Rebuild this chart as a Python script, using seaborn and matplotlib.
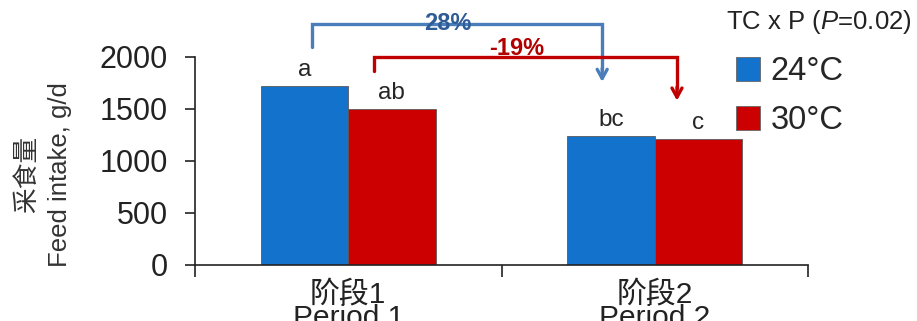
import matplotlib
matplotlib.use("Agg")
import matplotlib.pyplot as plt
from matplotlib.patches import Rectangle
import seaborn as sns
import pandas as pd

# ---- data ----
periods = ["阶段1\nPeriod 1", "阶段2\nPeriod 2"]
temps = ["24°C", "30°C"]
intake_24 = [1720, 1240]
intake_30 = [1500, 1210]
letters_24 = ["a", "bc"]
letters_30 = ["ab", "c"]
change_24 = "28%"
change_30 = "-19%"
interaction_label = "TC x P ($\\mathit{P}$=0.02)"
yticks = [0, 500, 1000, 1500, 2000]

colors = {"24°C": "#1272CC", "30°C": "#CC0000"}

df = pd.DataFrame({
    "period": periods * 2,
    "temp": [temps[0]] * 2 + [temps[1]] * 2,
    "intake": intake_24 + intake_30,
})

sns.set_theme(style="white")
plt.rcParams["font.family"] = ["Liberation Sans", "Noto Sans CJK SC", "DejaVu Sans"]
plt.rcParams["mathtext.fontset"] = "custom"
plt.rcParams["mathtext.rm"] = "Liberation Sans"
plt.rcParams["mathtext.it"] = "Liberation Sans:italic"

fig = plt.figure(figsize=(9.17, 3.21), dpi=100)
ax = fig.add_axes([195 / 917, 56 / 321, 613 / 917, 208 / 321])

sns.barplot(data=df, x="period", y="intake", hue="temp", order=periods,
            hue_order=temps, palette=colors, width=0.57, saturation=1,
            edgecolor="#5a5a5a", linewidth=0.6, legend=False, ax=ax)

ax.set_xlim(-0.5, 1.5)
ax.set_ylim(0, 2000)
ax.set_yticks(yticks)
ax.set_xlabel("")
ax.set_ylabel("")

for s in ["top", "right"]:
    ax.spines[s].set_visible(False)
for s in ["left", "bottom"]:
    ax.spines[s].set_color("#222222")
    ax.spines[s].set_linewidth(1.2)

ax.tick_params(axis="y", which="major", direction="out", length=7.5, width=1.2,
               color="#222222", labelsize=22, labelcolor="#222222", pad=12, left=True)
ax.tick_params(axis="x", which="major", length=0, labelsize=21.5, labelcolor="#222222", pad=11)
ax.set_xticks([-0.5, 0.5, 1.5], minor=True)
ax.tick_params(axis="x", which="minor", direction="out", length=8.5, width=1.2,
               color="#222222", bottom=True)
for lbl in ax.get_xticklabels():
    lbl.set_linespacing(0.8)
    lbl.set_va("top")

# y-axis title, two lines
ax.text(-0.247, 0.435, "采食量\nFeed intake, g/d", transform=ax.transAxes,
        rotation=90, ha="center", va="center", fontsize=18.5, color="#333333",
        linespacing=1.45, multialignment="center")

# bar geometry from the drawn patches (hue order: 24°C bars first, then 30°C)
bars = [p for p in ax.patches if p.get_height() > 0]
bars_24 = sorted(bars[:2], key=lambda p: p.get_x())
bars_30 = sorted(bars[2:4], key=lambda p: p.get_x())

def center(p):
    return p.get_x() + p.get_width() / 2

# significance letters
for group, labels in ((bars_24, letters_24), (bars_30, letters_30)):
    for p, t in zip(group, labels):
        ax.annotate(t, (center(p), p.get_height()), xytext=(0, 7),
                    textcoords="offset points", ha="center", va="baseline",
                    fontsize=17.5, color="#262626")

# change brackets between periods
def bracket(b0, b1, dx0, dx1, y0, ytop, ytip, color, tcolor, text, text_dy):
    x0 = center(b0) + dx0
    x1 = center(b1) + dx1
    ax.plot([x0, x0, x1, x1], [y0, ytop, ytop, ytip + 120], color=color,
            lw=2.4, clip_on=False, solid_joinstyle="miter", zorder=4)
    ax.annotate("", xy=(x1, ytip), xytext=(x1, ytip + 130),
                arrowprops=dict(arrowstyle="->,head_length=0.55,head_width=0.3",
                                color=color, lw=2.4, shrinkA=0, shrinkB=0),
                annotation_clip=False, zorder=4)
    ax.text((x0 + x1) / 2 - 0.03, ytop + text_dy, text, ha="center", va="center",
            fontsize=17, fontweight="bold", color=tcolor, zorder=5, clip_on=False)

bracket(bars_24[0], bars_24[1], 0.025, -0.029, 2100, 2320, 1760,
        "#4A7EBB", "#2E5C96", change_24, 0)
bracket(bars_30[0], bars_30[1], -0.057, -0.07, 1865, 2000, 1580,
        "#C00000", "#B00000", change_30, 85)

# interaction note and legend
fig.text(819 / 917, 1 - 22 / 321, interaction_label, ha="center", va="center",
         fontsize=18.5, color="#222222")
handles = [Rectangle((0, 0), 1, 1, facecolor=colors[t], edgecolor="#666666", lw=0.6)
           for t in temps]
ax.legend(handles, temps, loc="upper left", bbox_to_anchor=(736 / 917, 1 - 56 / 321),
          bbox_transform=fig.transFigure, frameon=False, fontsize=23.5,
          handlelength=0.75, handleheight=0.75, handletextpad=0.3,
          labelspacing=0.55, borderpad=0, borderaxespad=0)

fig.savefig("out.png", dpi=100)
